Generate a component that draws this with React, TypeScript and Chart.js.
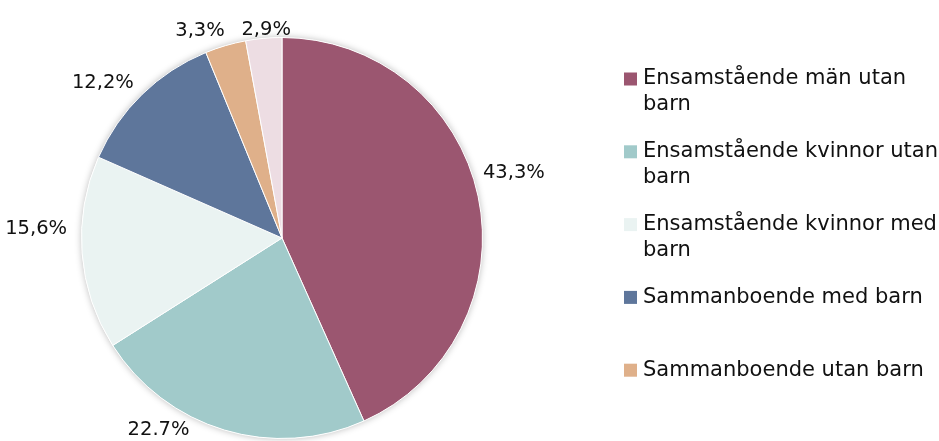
import React, { useEffect, useRef } from "react";
import { Chart, registerables } from "chart.js";

Chart.register(...registerables);

const categories = [
  "Ensamstående män utan barn",
  "Ensamstående kvinnor utan barn",
  "Ensamstående kvinnor med barn",
  "Sammanboende med barn",
  "Sammanboende utan barn",
  "Övriga",
];
const values = [43.3, 22.7, 15.6, 12.2, 3.3, 2.9];
const valueLabels = ["43,3%", "22.7%", "15,6%", "12,2%", "3,3%", "2,9%"];
const colors = ["#9B5670", "#A1CACA", "#EAF3F2", "#5E769B", "#DFB08A", "#EDDDE3"];
const legendCount = 5;

const FONT = "'DejaVu Sans', sans-serif";

// per-label nudges relative to the geometric outside anchor
const nudges: [number, number][] = [
  [-1, -22],
  [-33, -6],
  [-9, -25],
  [-4, -7],
  [1, -9],
  [3, -2],
];

const shadowPlugin = {
  id: "pieShadow",
  beforeDatasetsDraw(chart: any) {
    const ctx = chart.ctx;
    ctx.save();
    ctx.shadowColor = "rgba(0,0,0,0.28)";
    ctx.shadowBlur = 7;
    ctx.shadowOffsetX = 0;
    ctx.shadowOffsetY = 0;
    const meta = chart.getDatasetMeta(0);
    const a = meta.data[0];
    ctx.beginPath();
    ctx.arc(a.x, a.y, a.outerRadius, 0, Math.PI * 2);
    ctx.fillStyle = "#ffffff";
    ctx.fill();
    ctx.restore();
  },
};

const labelPlugin = {
  id: "outsideLabels",
  afterDatasetsDraw(chart: any) {
    const ctx = chart.ctx;
    const meta = chart.getDatasetMeta(0);
    ctx.save();
    ctx.font = `19.5px ${FONT}`;
    ctx.fillStyle = "#111111";
    ctx.textBaseline = "middle";
    meta.data.forEach((arc: any, i: number) => {
      const mid = (arc.startAngle + arc.endAngle) / 2;
      const r = arc.outerRadius + 6;
      const c = Math.cos(mid);
      const s = Math.sin(mid);
      const x = arc.x + r * c + nudges[i][0];
      const y = arc.y + r * s + nudges[i][1];
      ctx.textAlign = c > 0.1 ? "left" : c < -0.1 ? "right" : "center";
      ctx.fillText(valueLabels[i], x, y);
    });
    ctx.restore();
  },
};

const legendPlugin = {
  id: "sideLegend",
  afterDraw(chart: any) {
    const ctx = chart.ctx;
    const boxX = 624;
    const textX = 643;
    const firstY = 79;
    const step = 72.8;
    const lineH = 26;
    const maxW = chart.width - textX;
    ctx.save();
    ctx.font = `21px ${FONT}`;
    ctx.textBaseline = "middle";
    ctx.textAlign = "left";
    for (let i = 0; i < legendCount; i++) {
      const y = firstY + i * step;
      ctx.fillStyle = colors[i];
      ctx.fillRect(boxX, y - 6.5, 13, 13);
      const words = categories[i].split(" ");
      const lines: string[] = [];
      let cur = "";
      for (const w of words) {
        const test = cur ? cur + " " + w : w;
        if (ctx.measureText(test).width > maxW && cur) {
          lines.push(cur);
          cur = w;
        } else cur = test;
      }
      if (cur) lines.push(cur);
      ctx.fillStyle = "#111111";
      lines.forEach((ln, j) => ctx.fillText(ln, textX, y + j * lineH));
    }
    ctx.restore();
  },
};

export default function App() {
  const ref = useRef<HTMLCanvasElement | null>(null);
  useEffect(() => {
    if (!ref.current) return;
    const chart = new Chart(ref.current, {
      type: "pie",
      data: {
        labels: categories,
        datasets: [
          {
            data: values,
            backgroundColor: colors,
            borderColor: "#ffffff",
            borderWidth: 1,
          },
        ],
      },
      options: {
        responsive: false,
        animation: false,
        layout: { padding: { left: 81, top: 37, right: 456, bottom: 2 } },
        plugins: {
          legend: { display: false },
          tooltip: { enabled: false },
        },
      },
      plugins: [shadowPlugin, labelPlugin, legendPlugin],
    });
    return () => chart.destroy();
  }, []);
  return (
    <div style={{ position: "fixed", left: 0, top: 0, width: 939, height: 441, background: "#fff" }}>
      <canvas ref={ref} width={939} height={441} style={{ width: 939, height: 441 }} />
    </div>
  );
}
